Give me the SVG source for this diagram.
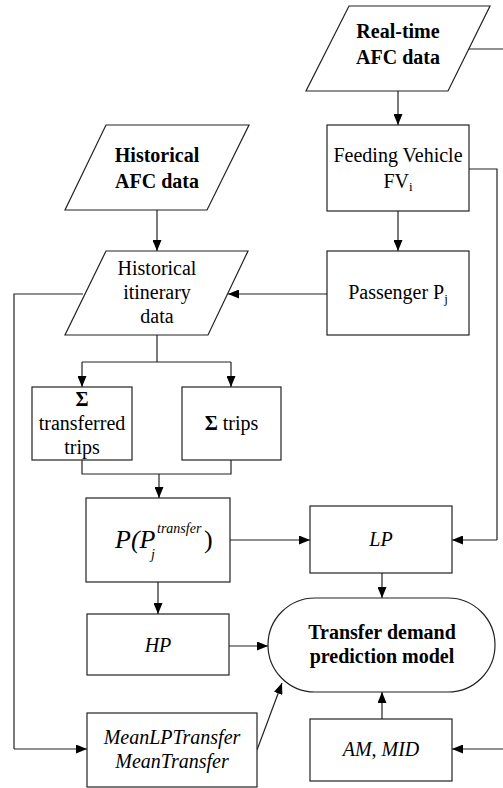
<svg xmlns="http://www.w3.org/2000/svg" width="503" height="788" viewBox="0 0 503 788">
<defs>
<marker id="ah" markerUnits="userSpaceOnUse" markerWidth="11" markerHeight="9" refX="11" refY="4.5" orient="auto">
<path d="M0,0 L11,4.5 L0,9 z" fill="#000"/>
</marker>
</defs>
<rect width="503" height="788" fill="#fff"/>
<g id="connectors" fill="none" stroke="#222" stroke-width="1.2">
<path d="M468,49 L503,49"/>
<path marker-end="url(#ah)" d="M398,91 L398,125"/>
<path marker-end="url(#ah)" d="M398,211 L398,251"/>
<path d="M469,169 L497,169 L497,540"/>
<path marker-end="url(#ah)" d="M497,540 L452,540"/>
<path marker-end="url(#ah)" d="M327,294 L228,294"/>
<path marker-end="url(#ah)" d="M157,210 L157,251"/>
<path d="M83,294 L14,294 L14,749"/>
<path marker-end="url(#ah)" d="M14,749 L87,749"/>
<path d="M157,335 L157,362 M82,362 L231,362"/>
<path marker-end="url(#ah)" d="M82,362 L82,387"/>
<path marker-end="url(#ah)" d="M231,362 L231,387"/>
<path d="M82,460 L82,474 L231,474 L231,460"/>
<path marker-end="url(#ah)" d="M159,474 L159,498"/>
<path marker-end="url(#ah)" d="M230,540 L310,540"/>
<path marker-end="url(#ah)" d="M158,582 L158,614"/>
<path marker-end="url(#ah)" d="M382,573 L382,598"/>
<path marker-end="url(#ah)" d="M229,646 L268,646"/>
<path marker-end="url(#ah)" d="M257,750 L282,683"/>
<path marker-end="url(#ah)" d="M382,719 L382,692"/>
<path marker-end="url(#ah)" d="M503,749 L452,749"/>
</g>
<g id="realtime">
<polygon fill="#fff" stroke="#222" stroke-width="1.2" points="349,6 490,6 448,91 306,91"/>
<text x="398" y="38" font-family="Times New Roman, Liberation Serif, Tinos, serif" font-size="20" font-weight="bold" text-anchor="middle">Real-time</text>
<text x="398" y="64" font-family="Times New Roman, Liberation Serif, Tinos, serif" font-size="20" font-weight="bold" text-anchor="middle">AFC data</text>
</g>
<g id="feeding">
<rect fill="#fff" stroke="#222" stroke-width="1.2" x="327" y="125" width="142" height="86"/>
<text x="398" y="162" font-family="Times New Roman, Liberation Serif, Tinos, serif" font-size="20" text-anchor="middle">Feeding Vehicle</text>
<text x="398" y="188" font-family="Times New Roman, Liberation Serif, Tinos, serif" font-size="20" text-anchor="middle">FV<tspan font-size="13" dy="3">i</tspan></text>
</g>
<g id="passenger">
<rect fill="#fff" stroke="#222" stroke-width="1.2" x="327" y="251" width="142" height="84"/>
<text x="398" y="299" font-family="Times New Roman, Liberation Serif, Tinos, serif" font-size="20" text-anchor="middle">Passenger P<tspan font-size="13" dy="4">j</tspan></text>
</g>
<g id="histafc">
<polygon fill="#fff" stroke="#222" stroke-width="1.2" points="106,125 249,125 207,210 65,210"/>
<text x="157" y="162" font-family="Times New Roman, Liberation Serif, Tinos, serif" font-size="20" font-weight="bold" text-anchor="middle">Historical</text>
<text x="157" y="188" font-family="Times New Roman, Liberation Serif, Tinos, serif" font-size="20" font-weight="bold" text-anchor="middle">AFC data</text>
</g>
<g id="histitin">
<polygon fill="#fff" stroke="#222" stroke-width="1.2" points="106,251 248,251 208,335 65,335"/>
<text x="157" y="275" font-family="Times New Roman, Liberation Serif, Tinos, serif" font-size="20" text-anchor="middle">Historical</text>
<text x="157" y="299" font-family="Times New Roman, Liberation Serif, Tinos, serif" font-size="20" text-anchor="middle">itinerary</text>
<text x="157" y="323" font-family="Times New Roman, Liberation Serif, Tinos, serif" font-size="20" text-anchor="middle">data</text>
</g>
<g id="sumtransferred">
<rect fill="#fff" stroke="#222" stroke-width="1.2" x="32" y="387" width="100" height="73"/>
<text x="82" y="406" font-family="Times New Roman, Liberation Serif, Tinos, serif" font-size="20" font-weight="bold" text-anchor="middle">Σ</text>
<text x="82" y="430" font-family="Times New Roman, Liberation Serif, Tinos, serif" font-size="20" text-anchor="middle">transferred</text>
<text x="82" y="454" font-family="Times New Roman, Liberation Serif, Tinos, serif" font-size="20" text-anchor="middle">trips</text>
</g>
<g id="sumtrips">
<rect fill="#fff" stroke="#222" stroke-width="1.2" x="182" y="387" width="99" height="73"/>
<text x="231.5" y="430" font-family="Times New Roman, Liberation Serif, Tinos, serif" font-size="20" text-anchor="middle"><tspan font-weight="bold">Σ</tspan> trips</text>
</g>
<g id="ptransfer">
<rect fill="#fff" stroke="#222" stroke-width="1.2" x="86" y="498" width="144" height="84"/>
<text x="115" y="548" font-family="Times New Roman, Liberation Serif, Tinos, serif" font-size="26" font-style="italic">P(P</text>
<text x="157" y="533" font-family="Times New Roman, Liberation Serif, Tinos, serif" font-size="14" font-style="italic">transfer</text>
<text x="151" y="559" font-family="Times New Roman, Liberation Serif, Tinos, serif" font-size="14" font-style="italic">j</text>
<text x="204" y="548" font-family="Times New Roman, Liberation Serif, Tinos, serif" font-size="26">)</text>
</g>
<g id="lp">
<rect fill="#fff" stroke="#222" stroke-width="1.2" x="310" y="506" width="142" height="67"/>
<text x="381" y="546" font-family="Times New Roman, Liberation Serif, Tinos, serif" font-size="20" font-style="italic" text-anchor="middle">LP</text>
</g>
<g id="hp">
<rect fill="#fff" stroke="#222" stroke-width="1.2" x="87" y="614" width="142" height="61"/>
<text x="158" y="652" font-family="Times New Roman, Liberation Serif, Tinos, serif" font-size="20" font-style="italic" text-anchor="middle">HP</text>
</g>
<g id="model">
<rect fill="#fff" stroke="#222" stroke-width="1.2" x="268" y="598" width="227" height="94" rx="47" ry="47"/>
<text x="382" y="639" font-family="Times New Roman, Liberation Serif, Tinos, serif" font-size="20" font-weight="bold" text-anchor="middle">Transfer demand</text>
<text x="382" y="663" font-family="Times New Roman, Liberation Serif, Tinos, serif" font-size="20" font-weight="bold" text-anchor="middle">prediction model</text>
</g>
<g id="mean">
<rect fill="#fff" stroke="#222" stroke-width="1.2" x="87" y="713" width="170" height="74"/>
<text x="172" y="744" font-family="Times New Roman, Liberation Serif, Tinos, serif" font-size="20" font-style="italic" text-anchor="middle">MeanLPTransfer</text>
<text x="172" y="768" font-family="Times New Roman, Liberation Serif, Tinos, serif" font-size="20" font-style="italic" text-anchor="middle">MeanTransfer</text>
</g>
<g id="ammid">
<rect fill="#fff" stroke="#222" stroke-width="1.2" x="310" y="719" width="142" height="62"/>
<text x="381" y="756" font-family="Times New Roman, Liberation Serif, Tinos, serif" font-size="20" font-style="italic" text-anchor="middle">AM, MID</text>
</g>
</svg>
